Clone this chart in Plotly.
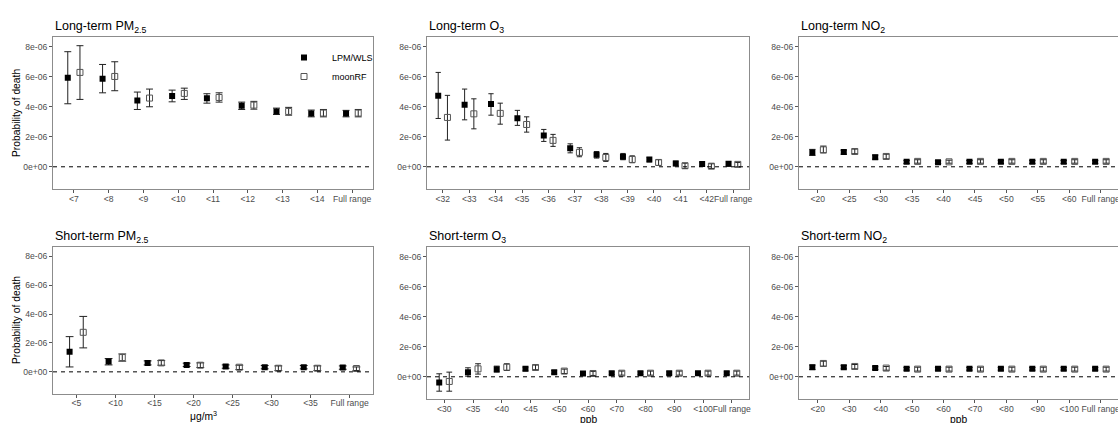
import plotly.graph_objects as go

# ---- values (probability of death, in units of 1e-6) ----
UNIT = 1e-6

lt_pm_cats = ["<7", "<8", "<9", "<10", "<11", "<12", "<13", "<14", "Full range"]
lt_pm_lpm = [5.93, 5.87, 4.42, 4.71, 4.56, 4.07, 3.69, 3.56, 3.56]
lt_pm_lpm_lo = [4.20, 4.93, 3.82, 4.33, 4.24, 3.82, 3.49, 3.33, 3.33]
lt_pm_lpm_hi = [7.67, 6.82, 4.98, 5.11, 4.87, 4.31, 3.91, 3.78, 3.76]
lt_pm_rf = [6.29, 6.02, 4.58, 4.89, 4.62, 4.11, 3.69, 3.58, 3.58]
lt_pm_rf_lo = [4.49, 5.07, 4.00, 4.49, 4.31, 3.84, 3.44, 3.33, 3.33]
lt_pm_rf_hi = [8.07, 7.00, 5.18, 5.24, 4.93, 4.36, 3.96, 3.82, 3.82]

lt_o3_cats = ["<32", "<33", "<34", "<35", "<36", "<37", "<38", "<39", "<40", "<41", "<42", "Full range"]
lt_o3_lpm = [4.73, 4.13, 4.18, 3.24, 2.09, 1.24, 0.80, 0.67, 0.49, 0.22, 0.18, 0.20]
lt_o3_lpm_lo = [3.22, 3.13, 3.44, 2.76, 1.69, 0.93, 0.58, 0.47, 0.33, 0.07, 0.04, 0.04]
lt_o3_lpm_hi = [6.29, 5.18, 4.87, 3.76, 2.49, 1.53, 1.02, 0.89, 0.62, 0.38, 0.29, 0.33]
lt_o3_rf = [3.29, 3.53, 3.56, 2.82, 1.76, 0.96, 0.62, 0.49, 0.29, 0.07, 0.04, 0.16]
lt_o3_rf_lo = [1.78, 2.53, 2.84, 2.31, 1.36, 0.67, 0.36, 0.27, 0.09, -0.11, -0.11, 0.00]
lt_o3_rf_hi = [4.76, 4.53, 4.24, 3.33, 2.16, 1.27, 0.89, 0.73, 0.47, 0.24, 0.20, 0.29]

lt_no2_cats = ["<20", "<25", "<30", "<35", "<40", "<45", "<50", "<55", "<60", "Full range"]
lt_no2_lpm = [0.96, 0.98, 0.64, 0.33, 0.31, 0.33, 0.33, 0.33, 0.33, 0.33]
lt_no2_lpm_lo = [0.76, 0.84, 0.51, 0.22, 0.22, 0.22, 0.22, 0.22, 0.22, 0.22]
lt_no2_lpm_hi = [1.16, 1.11, 0.78, 0.42, 0.40, 0.42, 0.42, 0.42, 0.42, 0.42]
lt_no2_rf = [1.13, 1.02, 0.69, 0.36, 0.33, 0.36, 0.36, 0.36, 0.36, 0.36]
lt_no2_rf_lo = [0.93, 0.87, 0.53, 0.24, 0.24, 0.24, 0.24, 0.24, 0.24, 0.24]
lt_no2_rf_hi = [1.38, 1.18, 0.84, 0.47, 0.44, 0.47, 0.47, 0.47, 0.47, 0.47]

st_pm_cats = ["<5", "<10", "<15", "<20", "<25", "<30", "<35", "Full range"]
st_pm_lpm = [1.40, 0.71, 0.62, 0.48, 0.37, 0.32, 0.32, 0.30]
st_pm_lpm_lo = [0.34, 0.48, 0.48, 0.37, 0.25, 0.21, 0.21, 0.18]
st_pm_lpm_hi = [2.44, 0.92, 0.76, 0.60, 0.48, 0.44, 0.44, 0.41]
st_pm_rf = [2.74, 0.99, 0.62, 0.46, 0.32, 0.25, 0.25, 0.23]
st_pm_rf_lo = [1.66, 0.74, 0.46, 0.30, 0.16, 0.09, 0.09, 0.09]
st_pm_rf_hi = [3.84, 1.24, 0.78, 0.62, 0.46, 0.41, 0.41, 0.34]

st_o3_cats = ["<30", "<35", "<40", "<45", "<50", "<60", "<70", "<80", "<90", "<100", "Full range"]
st_o3_lpm = [-0.38, 0.31, 0.51, 0.53, 0.31, 0.22, 0.24, 0.24, 0.24, 0.24, 0.24]
st_o3_lpm_lo = [-0.96, 0.04, 0.31, 0.40, 0.20, 0.13, 0.16, 0.16, 0.16, 0.16, 0.16]
st_o3_lpm_hi = [0.20, 0.60, 0.71, 0.64, 0.42, 0.31, 0.33, 0.33, 0.33, 0.33, 0.33]
st_o3_rf = [-0.31, 0.53, 0.64, 0.62, 0.38, 0.22, 0.24, 0.24, 0.24, 0.24, 0.24]
st_o3_rf_lo = [-0.96, 0.18, 0.42, 0.47, 0.22, 0.09, 0.11, 0.11, 0.11, 0.11, 0.11]
st_o3_rf_hi = [0.31, 0.87, 0.87, 0.78, 0.51, 0.36, 0.38, 0.38, 0.38, 0.38, 0.38]

st_no2_cats = ["<20", "<30", "<40", "<50", "<60", "<70", "<80", "<90", "<100", "Full range"]
st_no2_lpm = [0.64, 0.64, 0.58, 0.53, 0.53, 0.53, 0.53, 0.53, 0.53, 0.53]
st_no2_lpm_lo = [0.49, 0.53, 0.49, 0.44, 0.44, 0.44, 0.44, 0.44, 0.44, 0.44]
st_no2_lpm_hi = [0.78, 0.76, 0.67, 0.62, 0.62, 0.62, 0.62, 0.62, 0.62, 0.62]
st_no2_rf = [0.89, 0.69, 0.58, 0.51, 0.51, 0.51, 0.51, 0.51, 0.51, 0.51]
st_no2_rf_lo = [0.71, 0.53, 0.44, 0.38, 0.38, 0.38, 0.38, 0.38, 0.38, 0.38]
st_no2_rf_hi = [1.04, 0.82, 0.69, 0.64, 0.64, 0.64, 0.64, 0.64, 0.64, 0.64]

y_tick_vals = [0, 2, 4, 6, 8]
y_tick_text = ["0e+00", "2e-06", "4e-06", "6e-06", "8e-06"]
series_names = ["LPM/WLS", "moonRF"]

# ---- layout geometry (pixels) ----
W, H = 1118, 423
FONT = "Liberation Sans, Arial, sans-serif"
Y_RANGE = [-1.5 * UNIT, 8.67 * UNIT]
DODGE = 0.175
EXPAND = 0.6

panels = [
    dict(title="Long-term PM<sub>2.5</sub>", cats=lt_pm_cats,
         lpm=(lt_pm_lpm, lt_pm_lpm_lo, lt_pm_lpm_hi), rf=(lt_pm_rf, lt_pm_rf_lo, lt_pm_rf_hi),
         px=(53, 373), py=(36.7, 189.3), right_edge=373),
    dict(title="Long-term O<sub>3</sub>", cats=lt_o3_cats,
         lpm=(lt_o3_lpm, lt_o3_lpm_lo, lt_o3_lpm_hi), rf=(lt_o3_rf, lt_o3_rf_lo, lt_o3_rf_hi),
         px=(427, 749), py=(36.7, 189.3), right_edge=749),
    dict(title="Long-term NO<sub>2</sub>", cats=lt_no2_cats,
         lpm=(lt_no2_lpm, lt_no2_lpm_lo, lt_no2_lpm_hi), rf=(lt_no2_rf, lt_no2_rf_lo, lt_no2_rf_hi),
         px=(799, 1118), py=(36.7, 189.3), right_edge=1119.5),
    dict(title="Short-term PM<sub>2.5</sub>", cats=st_pm_cats,
         lpm=(st_pm_lpm, st_pm_lpm_lo, st_pm_lpm_hi), rf=(st_pm_rf, st_pm_rf_lo, st_pm_rf_hi),
         px=(53, 373), py=(246.7, 393.5), right_edge=373),
    dict(title="Short-term O<sub>3</sub>", cats=st_o3_cats,
         lpm=(st_o3_lpm, st_o3_lpm_lo, st_o3_lpm_hi), rf=(st_o3_rf, st_o3_rf_lo, st_o3_rf_hi),
         px=(427, 749), py=(246.7, 399.3), right_edge=749),
    dict(title="Short-term NO<sub>2</sub>", cats=st_no2_cats,
         lpm=(st_no2_lpm, st_no2_lpm_lo, st_no2_lpm_hi), rf=(st_no2_rf, st_no2_rf_lo, st_no2_rf_hi),
         px=(799, 1118), py=(246.7, 399.3), right_edge=1119.5),
]

fig = go.Figure()
annotations = []
shapes = []
layout_axes = {}

for i, p in enumerate(panels, start=1):
    sfx = "" if i == 1 else str(i)
    xa, ya = "x" + sfx, "y" + sfx
    n = len(p["cats"])
    full_units = (n - 1) + 2 * EXPAND
    step_px = (p["right_edge"] - p["px"][0]) / full_units
    x_hi = -EXPAND + (p["px"][1] - p["px"][0]) / step_px
    cap = 0.1 * step_px

    for k, (key, name) in enumerate(zip(("lpm", "rf"), series_names)):
        v, lo, hi = p[key]
        off = -DODGE if k == 0 else DODGE
        if k == 0:
            marker = dict(symbol="square", size=6, color="black")
        else:
            marker = dict(symbol="square-open", size=6, color="#555555",
                          line=dict(width=1, color="#555555"))
        fig.add_trace(go.Scatter(
            x=[j + off for j in range(n)],
            y=[a * UNIT for a in v],
            mode="markers",
            marker=marker,
            error_y=dict(type="data", symmetric=False,
                         array=[(h - a) * UNIT for a, h in zip(v, hi)],
                         arrayminus=[(a - l) * UNIT for a, l in zip(v, lo)],
                         width=cap, thickness=1, color="#222222"),
            name=name,
            legendgroup=name,
            showlegend=(i == 1),
            xaxis=xa, yaxis=ya,
        ))

    last_col = p["px"][1] >= W
    layout_axes["xaxis" + sfx] = dict(
        domain=[p["px"][0] / W, p["px"][1] / W],
        range=[-EXPAND, x_hi], anchor=ya,
        tickvals=list(range(n)), ticktext=p["cats"], tickangle=0,
        ticklabeloverflow="allow", ticklabelstandoff=-2,
        automargin=False,
        showgrid=False, zeroline=False,
        showline=True, mirror=True, linecolor="#8c8c8c", linewidth=1,
        ticks="outside", ticklen=3, tickcolor="#555555", tickwidth=1,
        tickfont=dict(family=FONT, size=8.6, color="#4d4d4d"),
        fixedrange=True,
    )
    layout_axes["yaxis" + sfx] = dict(
        domain=[1 - p["py"][1] / H, 1 - p["py"][0] / H],
        range=Y_RANGE, anchor=xa,
        tickvals=[t * UNIT for t in y_tick_vals], ticktext=y_tick_text,
        automargin=False,
        showgrid=False, zeroline=False,
        showline=True, mirror=not last_col, linecolor="#8c8c8c", linewidth=1,
        ticks="outside", ticklen=3, tickcolor="#555555", tickwidth=1,
        tickfont=dict(family=FONT, size=8.6, color="#4d4d4d"),
        fixedrange=True,
    )

    # dashed reference line at zero
    shapes.append(dict(type="line", xref=xa + " domain", yref=ya,
                       x0=0, x1=1, y0=0, y1=0,
                       line=dict(color="black", width=1, dash="4px,4px")))

    # panel title
    annotations.append(dict(text=p["title"], xref=xa + " domain", yref=ya + " domain",
                            x=0, y=1, xanchor="left", yanchor="bottom", yshift=0,
                            showarrow=False, font=dict(family=FONT, size=12.5, color="black")))

# y-axis titles for the left column
for ya in ("y", "y4"):
    annotations.append(dict(text="Probability of death", xref="paper", yref=ya + " domain",
                            x=16 / W, y=0.5, xanchor="center", yanchor="middle",
                            textangle=-90, showarrow=False,
                            font=dict(family=FONT, size=10.3, color="black")))

# x-axis titles for the bottom row
for xa, txt, xpos, ypx in (("x4", "μg/m<sup>3</sup>", 0.47, 415),
                           ("x5", "ppb", 0.5, 419), ("x6", "ppb", 0.5, 419)):
    annotations.append(dict(text=txt, xref=xa + " domain", yref="paper",
                            x=xpos, y=1 - ypx / H, xanchor="center", yanchor="middle",
                            showarrow=False, font=dict(family=FONT, size=10.3, color="black")))

fig.update_layout(
    width=W, height=H,
    margin=dict(l=0, r=0, t=0, b=0, autoexpand=False),
    paper_bgcolor="white", plot_bgcolor="white",
    font=dict(family=FONT, color="black"),
    annotations=annotations,
    shapes=shapes,
    legend=dict(x=276 / W, y=1 - 43 / H, xanchor="left", yanchor="top",
                bgcolor="rgba(0,0,0,0)", font=dict(family=FONT, size=9, color="black"),
                itemwidth=46, tracegroupgap=0),
    **layout_axes,
)

fig.write_html("out.html")
